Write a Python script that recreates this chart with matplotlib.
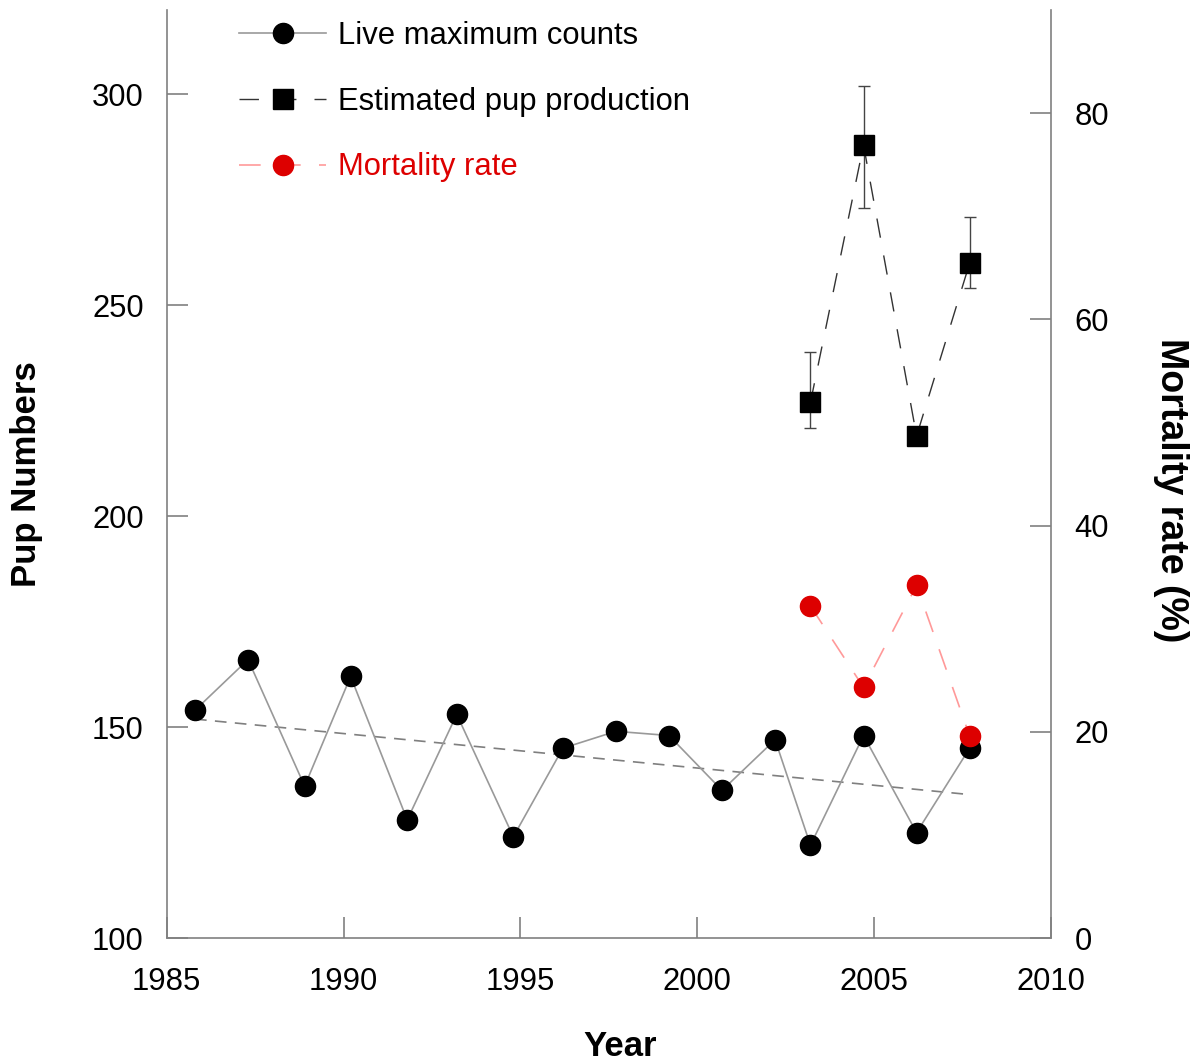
import matplotlib
matplotlib.use("Agg")
import matplotlib.pyplot as plt
import numpy as np

plt.rcParams['font.family'] = ['Liberation Sans', 'DejaVu Sans']

# ---- data ----
years = [1985.8, 1987.3, 1988.9, 1990.2, 1991.8, 1993.2, 1994.8, 1996.2,
         1997.7, 1999.2, 2000.7, 2002.2, 2003.2, 2004.7, 2006.2, 2007.7]
live_counts = [154, 166, 136, 162, 128, 153, 124, 145,
               149, 148, 135, 147, 122, 148, 125, 145]

est_years = [2003.2, 2004.7, 2006.2, 2007.7]
est_pups = [227, 288, 219, 260]
est_upper = [239, 302, 219, 271]
est_lower = [221, 273, 219, 254]

mort_years = [2003.2, 2004.7, 2006.2, 2007.7]
mortality = [32.2, 24.3, 34.2, 19.6]

trend_years = [1985.8, 2007.7]
trend_vals = [151.9, 134.0]

x_ticks = [1985, 1990, 1995, 2000, 2005, 2010]
left_ticks = [100, 150, 200, 250, 300]
right_ticks = [0, 20, 40, 60, 80]

labels = ["Live maximum counts", "Estimated pup production", "Mortality rate"]

# ---- figure ----
W, H = 1198, 1063
fig = plt.figure(figsize=(W / 100, H / 100), dpi=100)
x0, x1, y0, y1 = 166.7, 1051, 938, 10
ax = fig.add_axes([x0 / W, 1 - y0 / H, (x1 - x0) / W, (y0 - y1) / H])
ax2 = ax.twinx()

spine_c = '#808080'
tick_fs = 22.3

ax.set_xlim(1985, 2010)
ax.set_ylim(100, 320)
ax2.set_ylim(0, 90)

# trend line
ax.plot(trend_years, trend_vals, color='#7f7f7f', lw=1.2, dashes=(7, 5), zorder=2)

# live counts
l1, = ax.plot(years, live_counts, color='#999999', lw=1.2, marker='o',
              markersize=14.5, markerfacecolor='black', markeredgecolor='black', zorder=3)

# estimated pup production
err_lo = np.array(est_pups) - np.array(est_lower)
err_hi = np.array(est_upper) - np.array(est_pups)
ax.errorbar(est_years, est_pups, yerr=[err_lo, err_hi], fmt='none',
            ecolor='#444444', elinewidth=1.0, capsize=4, capthick=1.0, zorder=3)
l2, = ax.plot(est_years, est_pups, color='#333333', lw=1.0, dashes=(14, 13),
              marker='s', markersize=15, markerfacecolor='black',
              markeredgecolor='black', zorder=4)

# mortality
l3, = ax2.plot(mort_years, mortality, color='#ff9999', lw=1.2, dashes=(13, 11),
               marker='o', markersize=14.5, markerfacecolor='#dd0000',
               markeredgecolor='#dd0000', zorder=5)

# spines
for a in (ax, ax2):
    a.spines['top'].set_visible(False)
ax.spines['right'].set_visible(False)
ax2.spines['left'].set_visible(False)
for s in ['left', 'bottom']:
    ax.spines[s].set_color(spine_c)
    ax.spines[s].set_linewidth(1.2)
ax2.spines['right'].set_color(spine_c)
ax2.spines['right'].set_linewidth(1.2)
ax2.spines['bottom'].set_visible(False)

ax.set_xticks(x_ticks)
ax.set_yticks(left_ticks)
ax2.set_yticks(right_ticks)
ax.tick_params(axis='x', direction='in', length=15, width=1.2, color=spine_c,
               labelsize=tick_fs, pad=21)
ax.tick_params(axis='y', direction='in', length=15, width=1.2, color=spine_c,
               labelsize=tick_fs, pad=16.5)
ax2.tick_params(axis='y', direction='in', length=15, width=1.2, color=spine_c,
                labelsize=tick_fs, pad=17)

ax.set_xlabel("Year", fontsize=25, fontweight='bold')
ax.xaxis.set_label_coords(0.5126, -0.099)
ax.set_ylabel("Pup Numbers", fontsize=25, fontweight='bold', labelpad=35)
ax2.set_ylabel("Mortality rate (%)", fontsize=27, fontweight='bold',
               rotation=270, va='bottom')
ax2.yaxis.set_label_coords(1.115, 0.483)

leg = ax2.legend([l1, l2, l3], labels, loc='upper left',
                 bbox_to_anchor=(0.082, 0.988), frameon=False, fontsize=tick_fs,
                 handlelength=2.8, handletextpad=0.4, labelspacing=1.15,
                 borderpad=0, borderaxespad=0)
leg.get_texts()[2].set_color('#dd0000')

fig.savefig("out.png", dpi=100)
